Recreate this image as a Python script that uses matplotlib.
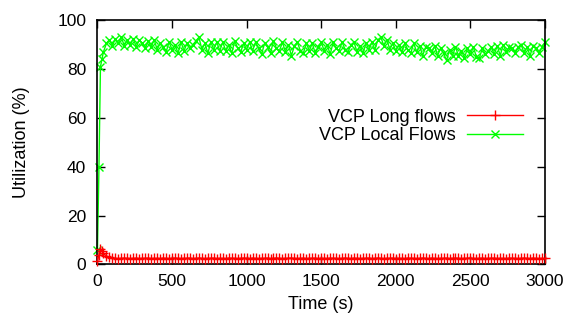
import matplotlib
matplotlib.use("Agg")
import matplotlib.pyplot as plt

# ---- data ----
time_s = [0, 10, 20, 30] + list(range(40, 3001, 20))

local_flows = [6, 40, 81, 84,
    87, 90.5, 92, 89.5, 92.5, 90.5, 93, 89.5, 92, 90,
    92.5, 89, 92, 90.5, 88.5, 91.5, 89, 92, 88, 90.5,
    89, 87, 91, 88, 90, 86.5, 91, 87.5, 90.5, 88.5,
    90, 91.5, 93, 88, 90.5, 86.5, 91, 88, 91, 87.5,
    91, 87.5, 90, 86.5, 91.5, 88.5, 87, 90.5, 88, 91,
    87.5, 91, 88.5, 86, 90.5, 89, 86.5, 91.5, 88.5, 87.5,
    91, 87, 90, 85.5, 89.5, 91, 87.5, 86.5, 90.5, 87.5,
    90.5, 86.5, 89, 91, 87.5, 90, 86, 91, 88.5, 87.5,
    91, 88, 87, 90, 91, 87, 89.5, 86.5, 90.5, 88,
    91, 88, 92, 93, 89.5, 92, 88, 90.5, 87.5, 90,
    87, 90.5, 88, 86.5, 90.5, 87, 89.5, 85.5, 89, 88.5,
    86.5, 89.5, 85.5, 88.5, 86.5, 83.5, 88, 85.5, 89, 85.5,
    87.5, 84.5, 88.5, 86, 89, 85, 84.5, 88.5, 86, 87.5,
    89, 86, 89.5, 85.5, 90, 87, 89, 88.5, 86.5, 89,
    90, 86.5, 89, 85.5, 89.5, 88.5, 86.5, 89,
    91]

long_flows = [1.5, 4, 6.5, 5.5,
    4.5, 3.5, 3, 2.6, 2.5, 2.4, 2.5, 2.6, 2.5, 2.4,
    2.5, 2.6, 2.4, 2.5, 2.5, 2.6, 2.4, 2.5, 2.5, 2.4,
    2.6, 2.5, 2.4, 2.5, 2.6, 2.5, 2.4, 2.5, 2.5, 2.6,
    2.4, 2.5, 2.6, 2.5, 2.4, 2.5, 2.5, 2.6, 2.4, 2.5,
    2.5, 2.4, 2.6, 2.5, 2.5, 2.4, 2.5, 2.6, 2.5, 2.4,
    2.6, 2.5, 2.4, 2.5, 2.5, 2.6, 2.4, 2.5, 2.6, 2.5,
    2.4, 2.5, 2.5, 2.6, 2.5, 2.4, 2.5, 2.6, 2.4, 2.5,
    2.5, 2.6, 2.4, 2.5, 2.5, 2.4, 2.6, 2.5, 2.5, 2.4,
    2.5, 2.6, 2.5, 2.4, 2.6, 2.5, 2.4, 2.5, 2.5, 2.6,
    2.4, 2.5, 2.6, 2.5, 2.4, 2.5, 2.5, 2.6, 2.4, 2.5,
    2.5, 2.4, 2.6, 2.5, 2.5, 2.4, 2.5, 2.6, 2.5, 2.4,
    2.6, 2.5, 2.4, 2.5, 2.5, 2.6, 2.4, 2.5, 2.6, 2.5,
    2.4, 2.5, 2.5, 2.6, 2.5, 2.4, 2.5, 2.6, 2.4, 2.5,
    2.5, 2.6, 2.4, 2.5, 2.5, 2.4, 2.6, 2.5, 2.5, 2.4,
    2.5, 2.6, 2.5, 2.4, 2.6, 2.5, 2.4, 2.5,
    2.5]

x_ticks = [0, 500, 1000, 1500, 2000, 2500, 3000]
y_ticks = [0, 20, 40, 60, 80, 100]
series_labels = ["VCP Long flows", "VCP Local Flows"]

# ---- style ----
plt.rcParams['font.family'] = ['Liberation Sans', 'DejaVu Sans']

fig = plt.figure(figsize=(5.69, 3.22), dpi=100)
ax = fig.add_axes([0.1713, 0.1786, 0.7865, 0.7587])

ax.plot(time_s, long_flows, color='#ff0000', lw=1.0, marker='+', ms=7,
        mew=1.0, clip_on=False, label=series_labels[0], zorder=3)
ax.plot(time_s, local_flows, color='#00ff00', lw=1.0, marker='x', ms=6,
        mew=1.0, clip_on=False, label=series_labels[1], zorder=2)

ax.set_xlim(0, 3000)
ax.set_ylim(0, 100)
ax.set_xticks(x_ticks)
ax.set_yticks(y_ticks)
ax.tick_params(direction='in', length=6, width=1, top=True, right=True,
               labelsize=12.5)
ax.tick_params(axis='x', pad=7)
ax.tick_params(axis='y', pad=8)
for s in ax.spines.values():
    s.set_linewidth(1.2)

ax.set_xlabel("Time (s)", fontsize=13, labelpad=5)
ax.set_ylabel("Utilization (%)", fontsize=13, labelpad=20)

leg = ax.legend(loc='center right', bbox_to_anchor=(0.951, 0.565),
                frameon=False, markerfirst=False, numpoints=1,
                handlelength=3.1, handletextpad=0.65, labelspacing=0.1,
                borderpad=0, borderaxespad=0, fontsize=13)

fig.savefig("out.png", dpi=100)
